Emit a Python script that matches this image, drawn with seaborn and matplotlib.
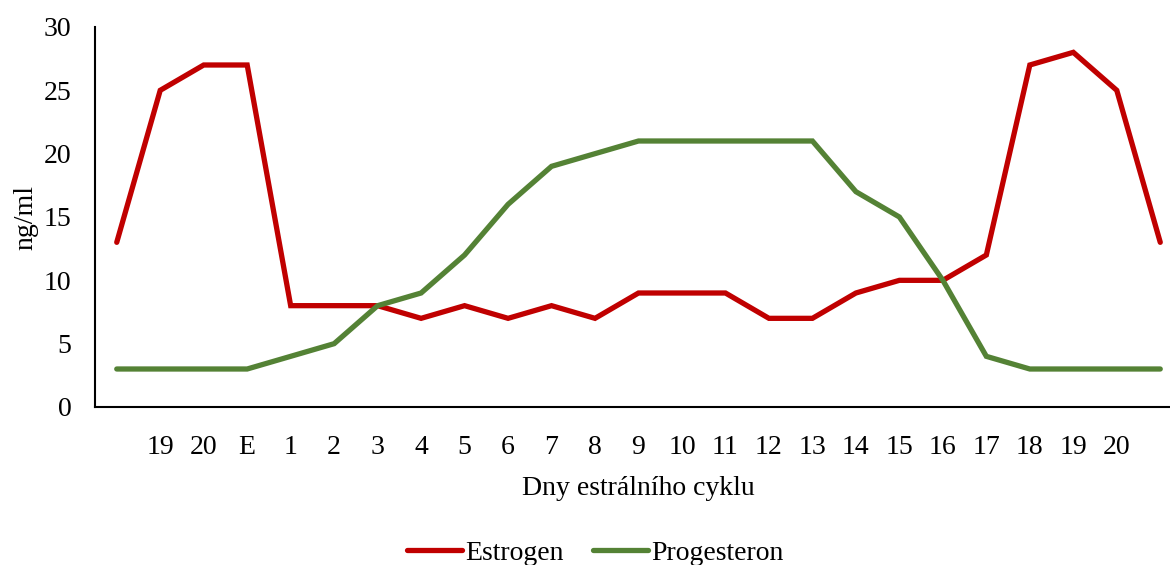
import matplotlib
matplotlib.use("Agg")
import matplotlib.pyplot as plt
import seaborn as sns
import pandas as pd

days = ["", "19", "20", "E", "1", "2", "3", "4", "5", "6", "7", "8", "9", "10",
        "11", "12", "13", "14", "15", "16", "17", "18", "19", "20", ""]
estrogen = [13, 25, 27, 27, 8, 8, 8, 7, 8, 7, 8, 7, 9, 9, 9, 7, 7, 9, 10, 10, 12, 27, 28, 25, 13]
progesteron = [3, 3, 3, 3, 4, 5, 8, 9, 12, 16, 19, 20, 21, 21, 21, 21, 21, 17, 15, 10, 4, 3, 3, 3, 3]

sns.set_theme(style="white")
plt.rcParams['font.family'] = ['Liberation Serif', 'DejaVu Serif']
plt.rcParams['text.color'] = 'black'
plt.rcParams['axes.labelcolor'] = 'black'
plt.rcParams['xtick.color'] = 'black'
plt.rcParams['ytick.color'] = 'black'

pos = list(range(len(days)))
df = pd.DataFrame({
    "pos": pos * 2,
    "value": estrogen + progesteron,
    "series": ["Estrogen"] * len(days) + ["Progesteron"] * len(days),
})

FS = 20
fig = plt.figure(figsize=(11.7, 5.65), dpi=100)
ax = fig.add_axes([95 / 1170, 1 - 407 / 565, (1182 - 95) / 1170, (407 - 27) / 565])
sns.lineplot(data=df, x="pos", y="value", hue="series",
             palette={"Estrogen": "#C00000", "Progesteron": "#548235"},
             linewidth=3.8, ax=ax, legend=True)
for l in ax.get_lines():
    l.set_solid_capstyle("round")
    l.set_solid_joinstyle("miter")

ax.set_xlim(-0.5, len(days) - 0.5)
ax.set_ylim(0, 30)
ax.set_yticks(range(0, 31, 5))
ax.set_xticks(pos)
ax.set_xticklabels(days)
ax.tick_params(axis="x", length=0, pad=20, labelsize=FS, colors="black")
ax.tick_params(axis="y", length=0, pad=17, labelsize=FS, colors="black")
for s in ["top", "right"]:
    ax.spines[s].set_visible(False)
for s in ["left", "bottom"]:
    ax.spines[s].set_color("black")
    ax.spines[s].set_linewidth(1.5)
ax.set_xlabel("Dny estrálního cyklu", fontsize=FS, labelpad=12, color="black")
ax.set_ylabel("ng/ml", fontsize=FS, labelpad=4, color="black")

handles, labels = ax.get_legend_handles_labels()
leg = ax.legend(handles, labels, loc="center", bbox_to_anchor=(595 / 1170, 1 - 553 / 565),
                bbox_transform=fig.transFigure, ncol=2, frameon=False, fontsize=FS,
                handlelength=2.0, handletextpad=0.1, columnspacing=1.05)
for t in leg.get_texts():
    t.set_color("black")

fig.savefig("out.png", dpi=100)
